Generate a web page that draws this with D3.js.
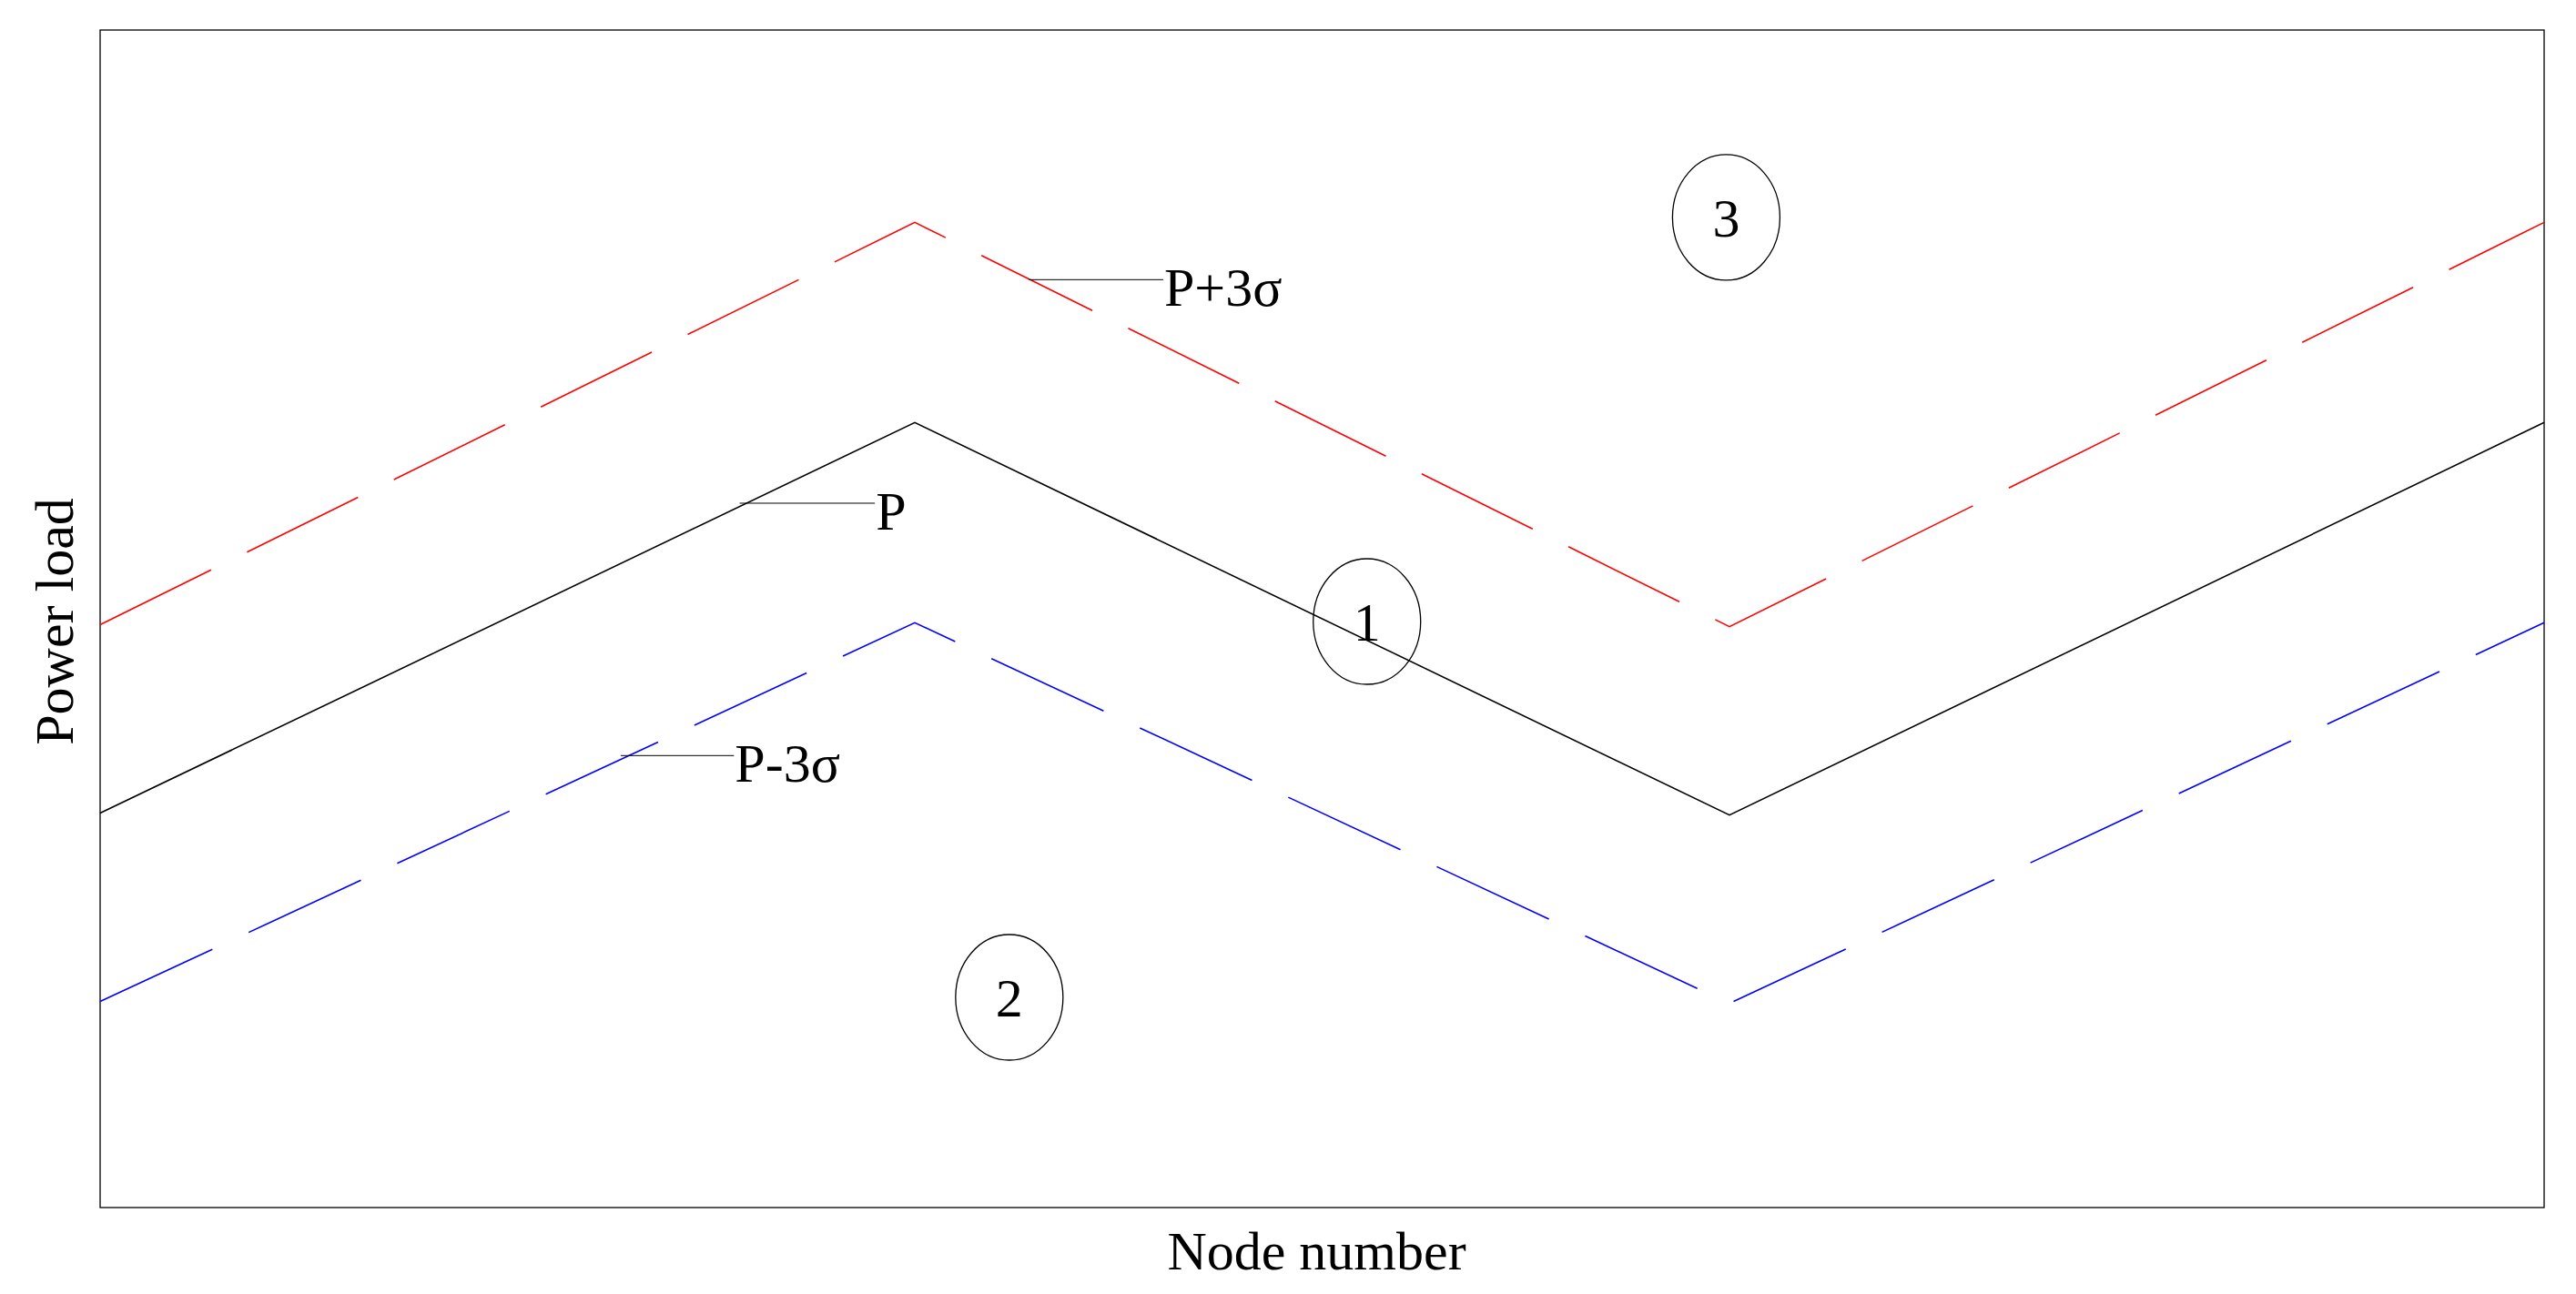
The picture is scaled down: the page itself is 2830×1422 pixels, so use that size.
<!DOCTYPE html>
<html>
<head>
<meta charset="utf-8">
<script src="https://cdn.jsdelivr.net/npm/d3@7"></script>
<style>
  body { margin: 0; background: #fff; }
  text { font-family: "Liberation Serif", "Times New Roman", serif; fill: #000; }
</style>
</head>
<body>
<svg id="chart"></svg>
<script>
// node index along the feeder
const nodes = [0, 1, 2, 3];
// load curves (arbitrary units, no ticks shown)
const loadP = [2.01, 4.0, 2.0, 4.0];
const loadUpper = [2.97, 5.02, 2.96, 5.02];
const loadLower = [1.05, 2.98, 1.04, 2.98];

// callout labels: leader from x0 to x1 at height y, text right after x1
const labelNames = ['P', 'P+3σ', 'P-3σ'];
const labelX0 = [0.785, 1.14, 0.639];
const labelX1 = [0.951, 1.305, 0.778];
const labelY = [3.589, 4.728, 2.303];

// circled region numbers
const regionNames = ['1', '2', '3'];
const regionX = [1.555, 1.116, 1.996];
const regionY = [2.986, 1.071, 5.045];

const width = 2830, height = 1422;
const margin = { top: 33, right: 35, bottom: 95, left: 110 };

const svg = d3.select('#chart')
  .attr('width', width)
  .attr('height', height);

svg.append('rect')
  .attr('width', width)
  .attr('height', height)
  .attr('fill', '#fff');

const x = d3.scaleLinear()
  .domain([0, 3])
  .range([margin.left, width - margin.right]);

const y = d3.scaleLinear()
  .domain([0, 6])
  .range([height - margin.bottom, margin.top]);

// frame
svg.append('rect')
  .attr('x', x(0))
  .attr('y', y(6))
  .attr('width', x(3) - x(0))
  .attr('height', y(0) - y(6))
  .attr('fill', 'none')
  .attr('stroke', '#000')
  .attr('stroke-width', 1.3);

const line = d3.line()
  .x(d => x(d[0]))
  .y(d => y(d[1]));

const series = [
  { values: loadUpper, color: '#ff0000', dash: '136,44' },
  { values: loadP, color: '#000000', dash: null },
  { values: loadLower, color: '#0000ff', dash: '136,44' }
];

svg.selectAll('path.series')
  .data(series)
  .join('path')
  .attr('class', 'series')
  .attr('d', s => line(nodes.map((n, i) => [n, s.values[i]])))
  .attr('fill', 'none')
  .attr('stroke', s => s.color)
  .attr('stroke-width', 1.6)
  .attr('stroke-dasharray', s => s.dash);

// leader lines + labels
const labels = labelNames.map((name, i) => ({ name, x0: labelX0[i], x1: labelX1[i], y: labelY[i] }));

svg.selectAll('line.leader')
  .data(labels)
  .join('line')
  .attr('class', 'leader')
  .attr('x1', d => x(d.x0))
  .attr('x2', d => x(d.x1))
  .attr('y1', d => y(d.y))
  .attr('y2', d => y(d.y))
  .attr('stroke', '#000')
  .attr('stroke-width', 1);

svg.selectAll('text.label')
  .data(labels)
  .join('text')
  .attr('class', 'label')
  .attr('x', d => x(d.x1) + 1)
  .attr('y', d => y(d.y) + 29)
  .attr('font-size', 60)
  .text(d => d.name);

// circled region markers
const regions = regionNames.map((name, i) => ({ name, x: regionX[i], y: regionY[i] }));

const reg = svg.selectAll('g.region')
  .data(regions)
  .join('g')
  .attr('class', 'region')
  .attr('transform', d => `translate(${x(d.x)},${y(d.y)})`);

reg.append('ellipse')
  .attr('rx', 59)
  .attr('ry', 69)
  .attr('fill', 'none')
  .attr('stroke', '#000')
  .attr('stroke-width', 1.3);

reg.append('text')
  .attr('text-anchor', 'middle')
  .attr('y', 21)
  .attr('font-size', 60)
  .text(d => d.name);

// axis titles
svg.append('text')
  .attr('x', (x(0) + x(3)) / 2 - 6)
  .attr('y', 1395)
  .attr('text-anchor', 'middle')
  .attr('font-size', 60)
  .text('Node number');

svg.append('text')
  .attr('transform', `translate(80,${(y(0) + y(6)) / 2 + 3}) rotate(-90)`)
  .attr('text-anchor', 'middle')
  .attr('font-size', 60)
  .text('Power load');
</script>
</body>
</html>
